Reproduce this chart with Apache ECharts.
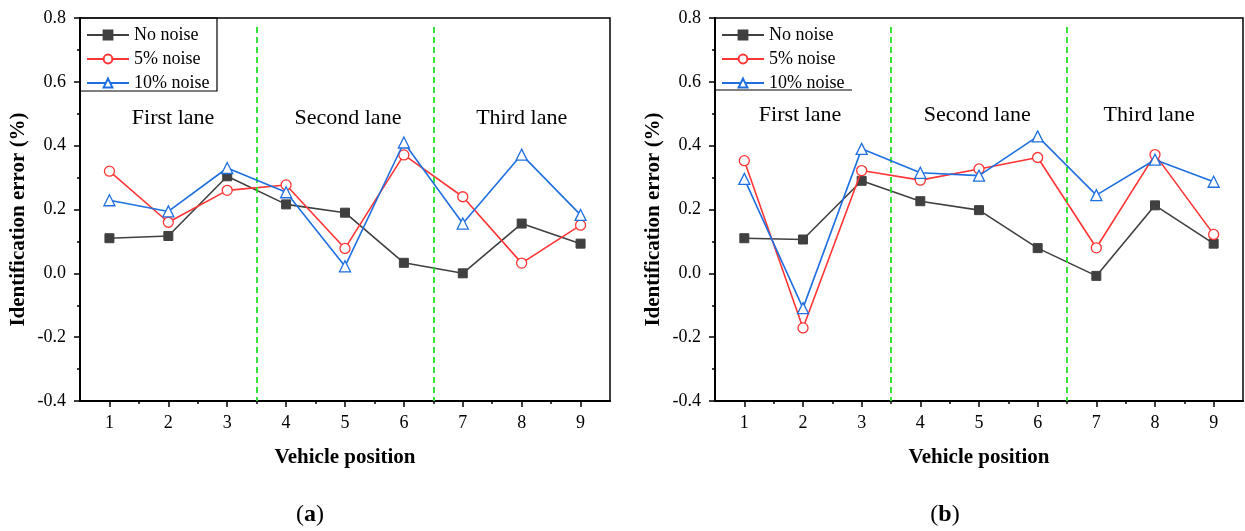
<!DOCTYPE html>
<html>
<head>
<meta charset="utf-8">
<script src="https://cdn.jsdelivr.net/npm/echarts@6/dist/echarts.min.js"></script>
<style>
  html, body { margin: 0; padding: 0; background: #ffffff; }
  #chart { width: 1245px; height: 531px; }
</style>
</head>
<body>
<div id="chart"></div>
<script>
// Vehicle positions along the bridge (x axis)
const positions = [1, 2, 3, 4, 5, 6, 7, 8, 9];
const seriesNames = ['No noise', '5% noise', '10% noise'];
const laneNames = ['First lane', 'Second lane', 'Third lane'];
const laneDividers = [3.5, 6.5];

// (a) identification error (%)
const noNoiseA  = [0.110, 0.117, 0.304, 0.216, 0.190, 0.033, 0.000, 0.156, 0.093];
const noise5A   = [0.320, 0.160, 0.260, 0.277, 0.078, 0.371, 0.240, 0.032, 0.151];
const noise10A  = [0.229, 0.194, 0.330, 0.254, 0.022, 0.410, 0.156, 0.372, 0.183];

// (b) identification error (%)
const noNoiseB  = [0.110, 0.106, 0.290, 0.226, 0.198, 0.079, -0.008, 0.213, 0.093];
const noise5B   = [0.353, -0.171, 0.322, 0.292, 0.327, 0.363, 0.080, 0.372, 0.122];
const noise10B  = [0.296, -0.109, 0.390, 0.315, 0.306, 0.429, 0.245, 0.356, 0.287];

const FONT = '"Liberation Serif", "DejaVu Serif", serif';
const colors = ['#404040', '#ff3434', '#1f6fe0'];
const symbols = ['rect', 'circle', 'triangle'];
const symbolSizes = [9, 10, 11];

const pair = (vals) => positions.map((p, i) => [p, vals[i]]);
const halfSteps = positions.slice(0, -1).map(p => p + 0.5);

const panels = [
  { left: 80,  right: 635, values: [noNoiseA, noise5A, noise10A],
    lanePos: [[2.08, 0.485], [5.05, 0.485], [8.0, 0.485]] },
  { left: 715, right: 2,   values: [noNoiseB, noise5B, noise10B],
    lanePos: [[1.95, 0.495], [4.97, 0.495], [7.9, 0.495]] }
];

const grid = [], xAxis = [], yAxis = [], series = [], legend = [];

panels.forEach((pn, k) => {
  grid.push({ left: pn.left, right: pn.right, top: 18, bottom: 130,
    show: true, borderColor: '#000', borderWidth: 1.5, backgroundColor: 'transparent' });

  // main x axis: labels and ticks at whole positions
  xAxis.push({
    gridIndex: k, type: 'value', min: 0.5, max: 9.5, position: 'bottom',
    name: 'Vehicle position', nameLocation: 'middle', nameGap: 46,
    nameTextStyle: { fontFamily: FONT, fontSize: 21, fontWeight: 'bold', color: '#000' },
    axisLine: { onZero: false, lineStyle: { color: '#000', width: 2 } },
    axisTick: { show: true, length: 6, lineStyle: { width: 1.5, color: '#000' }, customValues: positions },
    axisLabel: { fontFamily: FONT, fontSize: 18, color: '#000', margin: 13, customValues: positions },
    splitLine: { show: false }
  });
  // secondary x axis: minor ticks at half positions
  xAxis.push({
    gridIndex: k, type: 'value', min: 0.5, max: 9.5, position: 'bottom',
    axisLine: { show: false, onZero: false },
    axisTick: { show: true, length: 3, lineStyle: { width: 1.5, color: '#000' }, customValues: halfSteps },
    axisLabel: { show: false, customValues: halfSteps },
    splitLine: { show: false }
  });

  yAxis.push({
    gridIndex: k, type: 'value', min: -0.4, max: 0.8, interval: 0.2,
    name: 'Identification error (%)', nameLocation: 'middle', nameGap: 51,
    nameTextStyle: { fontFamily: FONT, fontSize: 21, fontWeight: 'bold', color: '#000',
      padding: [0, 20, 0, 0] },
    axisLine: { show: true, onZero: false, lineStyle: { color: '#000', width: 2 } },
    axisTick: { show: true, length: 6, lineStyle: { width: 1.5, color: '#000' } },
    minorTick: { show: true, splitNumber: 2, length: 3, lineStyle: { width: 1.5, color: '#000' } },
    axisLabel: { fontFamily: FONT, fontSize: 18, color: '#000', margin: 14,
      formatter: v => v.toFixed(1) },
    splitLine: { show: false }
  });

  seriesNames.forEach((name, s) => {
    const item = {
      name, type: 'line', xAxisIndex: 2 * k, yAxisIndex: k,
      data: pair(pn.values[s]),
      symbol: symbols[s], symbolSize: symbolSizes[s], showAllSymbol: true,
      lineStyle: { color: colors[s], width: 1.6 },
      itemStyle: s === 0
        ? { color: colors[s], borderColor: colors[s], borderWidth: 1 }
        : { color: '#ffffff', borderColor: colors[s], borderWidth: 1.3 },
      color: colors[s],
      z: 3 + s,
      animation: false
    };
    if (s === 0) {
      // dashed lane dividers
      item.markLine = {
        silent: true, symbol: 'none', animation: false,
        label: { show: false },
        lineStyle: { color: '#22e022', type: [6, 4], width: 1.8 },
        data: laneDividers.map(x => [{ coord: [x, 0.772] }, { coord: [x, -0.4] }])
      };
    }
    series.push(item);
  });

  // lane captions
  series.push({
    type: 'scatter', xAxisIndex: 2 * k, yAxisIndex: k, silent: true,
    symbolSize: 0, itemStyle: { color: '#000', opacity: 1 },
    data: laneNames.map((n, i) => ({ name: n, value: pn.lanePos[i] })),
    label: { show: true, position: [0, 0], align: 'center', verticalAlign: 'middle',
      formatter: p => p.name, opacity: 1, textBorderWidth: 0,
      fontFamily: FONT, fontSize: 22, color: '#000' },
    z: 6,
    animation: false
  });

  legend.push({
    data: seriesNames, orient: 'vertical',
    left: pn.left + 6, top: 26, padding: 0,
    itemWidth: 42, itemHeight: 11, itemGap: 6,
    textStyle: { fontFamily: FONT, fontSize: 18, color: '#000', padding: [0, 0, 0, 0] },
    selectedMode: false
  });
});

const chart = echarts.init(document.getElementById('chart'), null, { renderer: 'canvas' });
chart.setOption({
  backgroundColor: '#ffffff',
  animation: false,
  grid, xAxis, yAxis, series, legend,
  graphic: [
    // legend frame on panel (a)
    { type: 'rect', shape: { x: 80, y: 18, width: 137, height: 73 },
      style: { fill: 'none', stroke: '#000', lineWidth: 1.2 }, z: 10, silent: true },
    // legend underline on panel (b)
    { type: 'line', shape: { x1: 715, y1: 90, x2: 852, y2: 90 },
      style: { stroke: '#000', lineWidth: 1.2 }, z: 10, silent: true },
    { type: 'text', x: 310, y: 515, silent: true,
      style: { text: '{p|(}{b|a}{p|)}', align: 'center', verticalAlign: 'middle',
        rich: { p: { fontFamily: FONT, fontSize: 24, fill: '#000' },
                b: { fontFamily: FONT, fontSize: 24, fontWeight: 'bold', fill: '#000' } } } },
    { type: 'text', x: 945, y: 515, silent: true,
      style: { text: '{p|(}{b|b}{p|)}', align: 'center', verticalAlign: 'middle',
        rich: { p: { fontFamily: FONT, fontSize: 24, fill: '#000' },
                b: { fontFamily: FONT, fontSize: 24, fontWeight: 'bold', fill: '#000' } } } }
  ]
});
</script>
</body>
</html>
